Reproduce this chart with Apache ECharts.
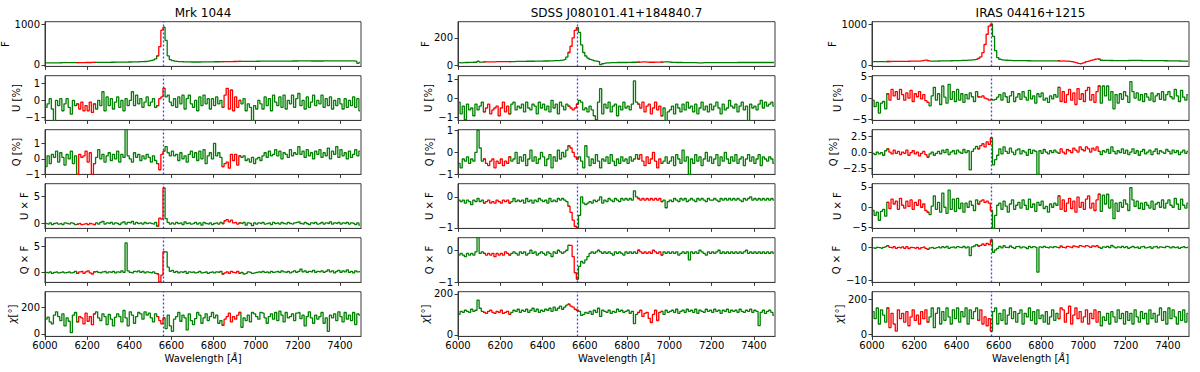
<!DOCTYPE html>
<html>
<head>
<meta charset="utf-8">
<script src="https://cdn.jsdelivr.net/npm/echarts@6/dist/echarts.min.js"></script>
<style>
  html, body { margin: 0; padding: 0; background: #fff; }
  #chart { width: 1200px; height: 372px; }
</style>
</head>
<body>
<div id="chart"></div>
<script>
// wavelength bin centres, 10 A bins from 6000 to 7500
const waveStart = 6005;
const waveStep = 10;
const waveCount = 150;
const wavelengths = [];
for (let i = 0; i < waveCount; i++) wavelengths.push(waveStart + i * waveStep);
const xTicks = [6000, 6200, 6400, 6600, 6800, 7000, 7200, 7400];
const halpha = 6563;

// ---- Mrk 1044 ----
const mrkRed = [[6150, 6240], [6530, 6570], [6840, 6930]];
const mrkF = [
  50,50,51,52,52,53,53,54,55,55, 56,56,57,57,58,58,58,59,59,60,
  60,60,61,61,62,62,63,63,64,64, 65,66,66,67,68,69,70,70,71,72,
  73,74,75,76,78,80,82,85,90,100, 110,125,150,220,450,850,920,600,220,130,
  105,95,88,84,80,78,76,75,74,73, 73,72,72,73,74,75,75,76,76,77,
  78,78,79,80,81,82,82,83,84,85, 85,86,86,87,88,88,89,89,90,90,
  91,91,92,92,92,93,93,93,94,94, 94,95,95,95,96,96,96,97,97,97,
  98,99,100,99,98,98,97,97,97,97, 97,97,98,98,98,98,98,99,99,99,
  99,99,100,100,100,100,98,95,40,60
];
const mrkU = [
  -0.4,-0.2,0.1,-0.5,-1.2,0.0,-0.3,0.1,-0.6,-0.2, 0.1,-0.4,-0.8,0.0,-0.3,-0.2,-0.5,-0.1,-0.6,-0.3,
  -0.6,-0.1,-0.7,-0.2,-0.5,0.0,-0.3,0.5,-0.6,0.2, -0.3,0.1,-0.5,-0.1,0.2,-0.4,0.0,-0.6,0.1,-0.3,
  0.0,0.5,-0.3,0.3,-0.2,0.1,-0.4,-0.1,0.2,-0.3, -0.1,0.1,-0.4,-0.3,0.1,0.2,0.7,0.2,0.3,-0.1,
  -0.3,0.1,-0.4,0.2,-0.2,0.3,-0.5,0.1,0.3,-0.2, -0.4,0.0,-0.6,0.2,-0.3,0.3,-0.2,0.1,-0.5,0.1,
  -0.3,0.2,-0.2,0.0,-0.4,0.3,0.7,-0.5,0.6,-0.6, 0.2,-0.4,0.0,-0.2,0.1,-0.6,-0.2,-0.4,-1.2,-0.3,
  -0.5,0.0,-0.2,-0.5,0.2,-0.3,0.1,-0.6,0.3,-0.1, -0.3,0.2,-0.4,0.3,-0.5,0.0,-0.2,0.3,-0.4,0.1,
  0.4,-0.3,0.0,-0.5,0.2,-0.4,-0.1,0.3,-0.3,0.0, -0.2,0.3,-0.4,0.1,-0.3,0.2,-0.5,0.0,-0.3,0.1,
  -0.2,-0.5,0.1,-0.4,0.0,-0.3,0.2,-0.4,0.1,-0.6
];
const mrkQ = [
  -0.5,0.2,-0.3,0.3,0.1,0.5,-0.2,0.4,0.1,-0.4, 0.3,0.0,0.5,-0.3,0.2,-1.0,0.3,0.1,0.2,0.5,
  -0.2,0.4,-1.0,-0.3,0.1,0.6,0.0,0.3,-0.2,0.2, 0.4,-0.1,0.3,0.0,0.5,-0.2,0.3,0.1,2.5,0.2,
  0.0,-0.2,0.4,0.1,0.3,-0.1,0.2,0.0,0.3,0.1, -0.2,0.2,-0.1,-0.3,-0.7,0.3,0.5,0.8,0.4,0.2,
  0.5,0.2,0.3,-0.1,0.4,0.0,0.2,-0.2,0.3,0.5, 0.1,0.4,-0.1,0.5,0.0,0.6,-0.3,0.2,0.4,0.0,
  1.0,0.2,0.4,0.1,-0.5,-0.3,-0.2,-0.6,0.3,-0.1, 0.3,-0.4,0.2,0.1,0.2,-0.1,0.0,-0.2,0.1,-0.3,
  0.0,0.1,-0.1,0.2,0.4,0.1,0.5,0.2,0.3,0.6, 0.2,0.5,0.0,0.4,0.3,0.1,0.6,0.2,0.4,0.3,
  0.8,0.3,0.5,0.1,0.6,0.2,0.4,0.0,0.5,0.3, 0.6,0.1,0.4,0.2,0.7,0.0,0.5,0.3,0.8,0.1,
  0.6,0.2,0.4,0.0,0.5,0.1,0.3,0.6,0.2,0.5
];
const mrkUF = [
  0.0,-0.1,0.1,-0.2,0.0,0.1,-0.1,0.0,-0.2,0.1, 0.0,-0.1,0.1,0.0,-0.2,-0.1,0.0,-0.2,-0.1,0.0,
  -0.2,0.0,-0.1,-0.2,0.1,-0.1,0.2,0.4,-0.1,0.1, 0.0,0.2,-0.1,0.1,0.0,-0.2,0.1,0.3,-0.1,0.2,
  0.1,0.4,-0.1,0.2,0.0,0.1,-0.1,0.2,0.0,0.1, 0.0,-0.1,0.2,-0.5,1.0,0.8,6.5,0.9,0.2,-0.1,
  0.1,-0.1,0.2,0.0,0.1,-0.2,0.3,0.0,0.1,-0.1, 0.0,0.2,-0.1,0.1,-0.3,0.2,0.0,-0.1,0.1,-0.2,
  0.0,0.1,-0.1,0.2,0.0,0.5,0.7,0.3,0.6,0.1, 0.2,-0.1,0.1,0.0,0.2,-0.3,0.1,0.0,-0.4,0.1,
  -0.1,0.1,0.0,0.2,-0.1,0.0,0.1,-0.2,0.2,0.0, 0.1,-0.1,0.2,0.0,-0.1,0.2,0.0,-0.1,0.1,0.2,
  0.3,0.0,-0.1,0.2,0.0,-0.2,0.1,0.0,0.2,-0.1, 0.0,0.2,-0.1,0.1,0.0,0.3,-0.1,0.1,0.0,0.2,
  -0.1,0.1,0.0,0.2,-0.1,0.1,0.0,-0.2,0.1,-0.3
];
const mrkQF = [
  0.0,-0.1,0.1,-0.2,0.0,0.1,-0.1,0.0,0.1,-0.1, 0.0,0.1,-0.1,0.0,0.2,-0.2,0.1,0.2,-0.2,0.1,
  0.3,-0.1,-0.3,0.1,0.2,0.0,-0.1,0.1,0.2,-0.1, 0.1,0.0,0.2,-0.1,0.1,0.0,0.3,0.0,5.6,0.3,
  0.0,-0.1,0.2,0.1,0.3,0.0,0.2,-0.1,0.1,0.0, -0.1,0.1,-0.2,-0.3,-1.8,-0.5,3.9,3.9,1.0,0.2,
  0.4,0.0,0.2,-0.1,0.1,0.0,0.2,-0.2,0.1,0.0, 0.1,-0.1,0.0,0.2,-0.1,0.0,0.1,-0.2,0.0,0.1,
  -0.1,0.1,0.0,0.2,-0.3,-0.1,0.1,-0.2,0.2,0.0, -0.1,0.2,-0.2,0.0,-0.3,-0.2,0.1,0.0,-0.2,-0.1,
  0.0,0.1,0.0,0.2,0.0,0.1,-0.1,0.2,0.0,0.1, 0.2,0.0,0.3,0.1,0.0,0.2,-0.1,0.1,0.3,0.0,
  0.2,0.6,0.1,0.3,0.0,0.2,0.1,0.4,0.0,0.2, 0.1,0.3,0.0,0.2,0.5,0.1,0.3,-0.1,0.2,0.4,
  0.0,0.3,0.1,0.5,0.0,0.2,-0.1,0.3,0.1,0.2
];
const mrkChi = [
  110,125,90,75,140,165,130,100,150,60, 120,95,10,140,160,90,130,120,75,155,
  95,130,70,150,165,120,100,150,130,70, 145,110,60,125,150,130,90,175,120,60,
  165,140,80,130,160,150,110,165,140,155, 120,90,150,130,100,75,120,40,140,60,
  20,110,130,160,95,140,120,30,150,100, 70,115,160,140,80,120,150,100,130,160,
  120,140,80,100,65,110,130,155,90,130, 110,140,160,50,120,100,140,90,160,150,
  130,110,160,155,120,80,130,150,110,160, 100,170,140,90,160,120,130,150,100,155,
  160,115,140,60,130,165,120,80,140,110, 130,160,80,120,20,140,120,150,100,165,
  130,90,160,110,140,100,160,70,150,140
];

// ---- SDSS J080101.41+184840.7 ----
const sdssRed = [[6120, 6250], [6520, 6570], [6850, 6970]];
const sdssF = [
  22,21,22,23,23,24,24,25,25,32, 26,26,27,27,27,28,28,28,29,29,
  29,29,30,30,30,30,30,31,31,31, 31,31,32,32,32,32,33,33,33,33,
  34,34,34,35,35,36,36,37,38,40, 45,62,95,140,200,255,275,240,150,95,
  70,55,45,40,35,33,30,8,14,18, 20,21,22,22,22,23,23,23,23,23,
  24,24,25,25,25,26,26,27,27,26, 25,25,25,26,26,26,26,27,28,27,
  25,24,24,23,23,23,22,22,22,22, 22,22,22,21,21,21,22,22,22,22,
  22,22,22,22,22,22,22,22,22,22, 22,22,23,23,23,23,23,23,23,23,
  23,23,23,23,23,23,23,23,23,23
];
const sdssU = [
  -0.2,-0.8,-0.4,-1.1,-0.3,-0.6,-0.5,-0.9,-0.3,-0.6, -0.4,-0.2,-0.7,-0.5,-0.3,-0.8,-0.6,-0.5,-0.4,-0.9,
  -0.5,-0.2,-0.7,-0.4,-0.8,-0.3,-0.2,-0.6,-0.4,-0.5, -0.3,-0.7,-0.2,-0.5,-0.6,-0.3,-0.4,-0.8,-0.2,-0.5,
  -0.3,-0.6,-0.4,-0.7,-0.1,-0.5,-0.3,-0.8,-0.2,-0.4, -0.6,-0.3,-0.4,-0.5,-0.6,-0.5,-0.3,-0.1,-0.2,-0.6,
  -0.5,-0.7,-0.4,-0.6,-0.9,-1.1,-0.2,0.5,-0.8,-0.3, -0.5,-0.2,-0.7,-0.4,-0.3,-0.9,-0.4,-0.6,-0.2,-0.5,
  -0.4,-0.6,-0.3,0.9,-0.2,-0.3,-0.5,-0.2,-0.7,-0.4, -0.3,-0.8,-0.5,-0.2,-0.6,-0.4,-0.9,-0.5,-1.2,-0.7,
  -0.6,-0.4,-0.8,-0.3,-0.5,-0.7,-0.3,-0.6,-0.2,-0.5, -0.4,-0.7,-0.3,-0.8,-0.5,-0.2,-0.6,-0.4,-0.7,-0.3,
  -0.6,-0.4,-0.2,-0.5,-0.8,-0.3,-0.6,-0.5,-0.1,-0.4, -0.5,-0.3,-0.7,-0.4,-0.2,-0.6,-0.4,-1.2,-0.3,-0.5,
  -0.4,-0.6,-0.3,-0.1,-0.5,-0.2,-0.4,-0.3,-0.2,-0.4
];
const sdssQ = [
  -0.5,-0.7,-0.3,-0.4,-0.2,-0.5,-0.3,-0.4,0.0,1.0, 0.2,-0.4,-0.3,-0.5,-0.6,-0.4,-0.3,-0.7,-0.4,-0.5,
  -0.3,-0.6,-0.4,-0.5,-0.2,-0.4,-0.3,0.0,-0.5,-0.2, -0.4,-0.1,-0.6,-0.3,0.1,-0.4,-0.2,-0.5,-0.3,0.0,
  -0.2,-0.6,-0.3,-0.1,-0.7,-0.2,-0.4,0.1,-0.3,0.0, -0.2,0.1,0.3,0.2,0.0,-0.2,-0.3,-0.2,-0.4,-0.7,
  0.3,-0.2,-0.6,-0.3,-0.5,-0.1,-0.4,-0.7,-0.3,-0.4, -0.2,-0.5,-0.1,-0.4,-0.6,-0.3,-0.5,-0.2,-0.4,-0.3,
  -0.5,-0.2,-0.4,-0.3,-0.1,-0.3,-0.1,-0.4,-0.6,-0.2, -0.5,-0.3,0.0,-0.4,-0.7,-0.3,-0.5,-0.4,-0.2,-0.5,
  -0.4,-0.2,-0.6,-0.1,-0.3,-0.5,0.1,-0.4,-0.2,-1.0, -0.3,-0.5,-0.1,-0.4,-0.2,-0.6,-0.3,0.0,-0.4,-0.2,
  -0.5,-0.3,-0.1,-0.6,-0.2,-0.4,0.0,-0.3,-0.5,-0.2, -0.4,-0.1,-0.5,-0.3,-0.2,-0.6,-0.3,-0.1,-0.4,-0.2,
  -0.5,-0.3,-0.1,-0.6,-0.2,-0.3,-0.4,-0.2,-0.3,-0.5
];
const sdssUF = [
  -0.1,-0.15,-0.1,-0.2,-0.1,-0.15,-0.25,-0.1,-0.15,-0.05, -0.15,-0.1,-0.2,-0.15,-0.1,-0.2,-0.15,-0.2,-0.1,-0.15,
  -0.2,-0.1,-0.15,-0.1,-0.2,-0.15,-0.05,-0.15,-0.1,-0.15, -0.1,-0.2,-0.05,-0.15,-0.1,-0.2,-0.1,-0.15,-0.05,-0.1,
  -0.15,-0.1,-0.2,-0.05,-0.15,-0.1,-0.15,-0.05,-0.1,-0.05, -0.1,-0.15,-0.3,-0.5,-0.75,-0.95,-1.0,-0.6,0.0,-0.2,
  -0.25,-0.2,-0.15,-0.2,-0.1,-0.15,-0.1,0.0,-0.2,-0.1, -0.15,-0.05,-0.1,-0.15,-0.05,-0.1,-0.15,-0.05,-0.1,-0.05,
  -0.1,-0.05,-0.1,0.2,0.0,-0.05,-0.1,-0.05,-0.1,-0.05, -0.1,-0.05,-0.1,-0.05,-0.1,-0.05,-0.15,-0.1,-0.35,-0.15,
  -0.1,-0.15,-0.05,-0.1,-0.15,-0.05,-0.1,-0.05,-0.15,-0.1, -0.05,-0.1,-0.15,-0.05,-0.1,-0.05,-0.1,-0.15,-0.05,-0.1,
  -0.1,-0.05,-0.1,-0.15,-0.05,-0.1,-0.05,-0.1,-0.05,-0.1, -0.05,-0.1,-0.05,-0.1,-0.15,-0.05,-0.1,-0.05,0.0,-0.1,
  -0.05,-0.1,-0.05,-0.1,-0.05,-0.1,-0.05,-0.1,-0.05,-0.1
];
const sdssQF = [
  -0.15,-0.1,-0.15,-0.2,-0.1,-0.15,-0.1,-0.15,-0.05,0.4, -0.1,-0.05,-0.1,-0.15,-0.1,-0.15,-0.1,-0.2,-0.1,-0.15,
  -0.1,-0.15,-0.05,-0.1,-0.15,-0.1,-0.05,-0.1,-0.15,-0.05, -0.1,-0.05,-0.15,-0.1,0.0,-0.1,-0.05,-0.15,-0.1,-0.05,
  -0.1,-0.15,-0.05,-0.1,-0.2,-0.05,-0.1,0.0,-0.05,-0.1, -0.05,0.0,0.15,0.15,-0.2,-0.7,-0.9,-0.5,-0.35,-0.4,
  -0.3,-0.2,-0.1,-0.05,-0.1,-0.05,0.0,-0.05,-0.1,-0.05, -0.1,-0.05,-0.1,-0.15,-0.05,-0.1,-0.05,-0.1,-0.15,-0.05,
  -0.1,-0.05,-0.1,-0.05,-0.1,0.0,-0.05,-0.1,-0.05,-0.1, -0.05,-0.1,0.0,-0.05,-0.1,-0.05,-0.15,-0.05,-0.1,-0.05,
  -0.1,-0.05,-0.1,-0.05,-0.15,-0.1,-0.05,-0.1,-0.05,-0.3, -0.05,-0.1,-0.05,-0.1,0.0,-0.05,-0.1,-0.15,-0.05,-0.1,
  -0.05,-0.1,-0.05,0.0,-0.1,-0.05,-0.1,-0.05,-0.1,-0.05, -0.1,-0.05,-0.1,-0.05,-0.1,-0.05,0.0,-0.1,-0.05,-0.1,
  -0.05,-0.1,-0.05,-0.1,-0.05,-0.1,-0.05,-0.1,-0.05,-0.1
];
const sdssChi = [
  100,115,110,120,115,110,125,115,120,170, 130,115,110,105,115,120,110,105,115,110,
  120,105,110,115,100,110,120,115,125,110, 120,115,125,110,120,130,115,125,110,120,
  115,125,120,130,115,135,120,130,140,125, 135,145,150,140,135,125,120,115,95,100,
  110,105,115,100,120,110,130,90,120,115, 110,120,105,115,110,125,115,120,110,115,
  120,105,115,55,100,110,120,90,105,110, 80,60,100,120,70,110,115,100,120,110,
  115,120,110,125,105,115,120,110,125,115, 120,110,125,105,120,115,110,125,115,120,
  110,125,115,120,105,120,115,125,110,120, 115,120,110,125,115,110,120,115,125,110,
  120,115,45,110,120,105,115,120,110,95
];

// ---- IRAS 04416+1215 ----
const irasRed = [[6070, 6270], [6500, 6570], [6880, 7080]];
const irasF = [
  80,80,81,82,82,83,84,85,85,86, 86,87,88,88,89,90,90,91,92,93,
  93,94,95,100,110,118,105,95,94,95, 96,97,98,99,100,101,102,103,104,105,
  106,108,110,112,114,117,120,125,130,140, 160,200,300,500,750,950,1000,700,350,180,
  140,125,118,115,112,110,108,107,106,105, 105,104,104,103,103,102,102,102,101,101,
  100,100,100,100,100,100,100,100,98,95, 98,96,92,88,82,70,55,40,30,45,
  60,80,95,110,125,140,150,145,115,112, 110,110,109,109,108,108,108,107,107,107,
  108,109,110,111,111,110,110,109,108,108, 107,107,106,106,105,105,104,104,103,103,
  102,101,100,99,98,97,96,95,93,90
];
const irasU = [
  -0.5,-2.0,-1.0,-3.5,-1.2,-0.8,-2.5,1.0,-0.5,2.0, 0.5,1.5,-0.3,2.0,0.8,-0.5,1.2,0.0,1.8,-0.8,
  1.0,0.3,1.5,-0.2,0.8,-0.6,-1.0,-1.8,0.5,2.5, -0.5,1.0,-1.5,2.8,0.2,-1.2,3.2,-0.3,1.5,-0.8,
  2.0,-0.5,1.0,-1.0,0.8,-0.2,1.2,0.3,-0.8,1.5, 0.3,0.2,0.5,0.0,-0.2,-0.5,-0.3,-0.5,-0.3,0.2,
  0.8,-0.5,1.2,0.3,-1.0,0.5,1.5,-0.8,0.2,1.0, -0.3,1.5,0.2,-0.5,1.8,-0.2,0.5,-1.2,1.0,0.3,
  1.2,-0.5,0.0,-1.0,0.5,-0.2,0.8,0.2,2.5,-0.8, 1.5,-1.0,0.8,2.0,-0.5,1.2,-1.5,2.2,-0.3,1.0,
  -0.8,1.8,2.5,-0.5,0.8,-1.0,1.5,2.8,-1.2,2.8, 0.5,2.8,-0.5,1.5,-2.5,0.8,-1.2,1.0,-0.3,1.5,
  0.5,-1.0,3.8,1.5,0.0,1.2,-0.5,0.8,-0.8,1.0, 0.2,-0.5,1.2,-0.8,0.5,1.0,-0.3,1.5,-0.5,0.8,
  1.5,0.3,-0.2,2.0,0.5,-0.8,1.8,0.2,-0.5,0.8
];
const irasQ = [
  -0.2,-0.4,0.0,-0.3,-0.1,-0.5,0.2,0.5,0.0,-0.3, 0.3,-0.2,0.1,-0.4,0.0,-0.2,0.3,-0.5,-0.1,0.2,
  -0.3,0.0,-0.6,-0.2,0.1,-0.4,-0.8,-0.3,0.0,-0.5, -0.2,0.1,-0.3,0.3,-0.1,0.4,-0.4,0.0,0.2,-0.3,
  0.3,0.0,-0.2,0.4,-0.1,0.2,-2.8,0.1,0.5,0.9, 0.5,1.0,1.3,0.8,1.6,1.2,2.2,-2.0,-1.2,-0.5,
  0.5,-0.3,0.8,0.1,-0.2,0.6,0.0,-0.4,0.3,0.5, -0.3,0.2,0.0,-0.5,0.4,-0.2,0.3,0.1,-3.5,0.2,
  -0.2,0.4,0.0,-0.3,0.2,-0.1,0.3,0.0,-0.2,0.5, 0.0,-0.3,0.4,0.2,-0.1,0.6,0.3,0.0,0.8,0.4,
  0.2,0.8,0.5,0.0,0.6,0.3,0.8,0.1,-0.4,0.2, 0.0,0.4,-0.2,0.8,0.1,-0.3,0.2,-0.1,0.5,-0.2,
  0.3,-0.4,0.0,0.5,-0.2,0.2,-0.5,0.1,0.4,-0.3, 0.0,0.3,-0.4,0.1,0.5,-0.3,0.2,0.0,-0.2,0.4,
  0.1,-0.3,0.3,-0.1,0.2,-0.4,0.0,0.3,-0.2,0.1
];
const irasUF = [
  -0.8,-2.0,-1.2,-3.2,-1.0,-0.5,-2.2,1.2,-0.3,2.0, 0.8,1.5,-0.5,2.2,0.5,-0.2,1.5,0.2,1.8,-0.5,
  1.2,0.5,1.8,0.0,0.8,-0.8,-1.2,-1.8,0.3,2.8, -0.5,1.2,-1.2,3.5,0.0,-1.5,4.2,-0.5,2.0,-1.0,
  2.2,-0.3,1.0,-1.2,1.0,0.0,1.5,0.5,-0.8,1.8, 0.8,1.5,1.8,1.2,1.5,1.0,-0.8,-5.2,-2.0,0.5,
  1.0,-0.5,1.5,0.3,-1.2,0.8,1.8,-0.5,0.5,1.2, -0.2,1.8,0.5,-0.5,2.0,0.0,0.8,-1.0,1.2,0.5,
  1.5,-0.3,0.2,-1.2,0.8,0.0,1.0,0.5,2.8,-0.5, 1.8,-1.0,1.0,2.2,-0.3,1.5,-1.2,2.5,0.0,1.2,
  -0.5,2.0,2.8,-0.2,1.0,-0.8,1.8,3.2,-1.0,3.0, 0.8,3.2,-0.2,1.8,-2.8,1.0,-1.0,1.2,0.0,1.8,
  0.8,-0.8,4.8,1.8,0.2,1.5,-0.3,1.0,-0.5,1.2, 0.5,-0.2,1.5,-0.5,0.8,1.2,0.0,1.8,-0.2,1.0,
  1.8,0.5,0.0,2.2,0.8,-0.5,2.0,0.5,-0.2,1.0
];
const irasQF = [
  -0.2,-0.3,0.0,-0.1,-0.3,0.0,0.2,0.5,0.0,-0.2, 0.2,-0.3,0.0,-0.2,0.1,-0.3,0.2,-0.4,0.0,-0.1,
  -0.3,0.0,-0.5,-0.1,0.1,-0.3,-0.6,-0.2,0.0,-0.3, -0.1,0.1,-0.2,0.2,-0.1,0.3,-0.3,0.0,0.1,-0.2,
  0.2,0.0,-0.1,0.3,-0.2,0.1,-2.5,0.1,0.4,0.8, 0.4,0.6,1.0,0.6,1.2,0.8,2.2,-1.5,-0.8,-0.3,
  0.3,-0.2,0.5,0.0,-0.1,0.4,0.0,-0.3,0.2,0.3, -0.2,0.1,0.0,-0.4,0.3,-0.1,0.2,0.0,-7.5,0.1,
  -0.1,0.3,0.0,-0.2,0.1,-0.1,0.2,0.0,-0.1,0.4, 0.0,-0.2,0.3,0.1,-0.1,0.4,0.2,0.0,0.5,0.3,
  0.1,0.5,0.3,0.0,0.4,0.2,0.5,0.0,-0.3,0.1, 0.0,0.3,-0.1,0.6,0.1,-0.2,0.1,-0.1,0.3,-0.1,
  0.2,-0.3,0.0,0.3,-0.1,0.1,-0.3,0.1,0.3,-0.2, 0.0,0.2,-0.3,0.1,0.3,-0.2,0.1,0.0,-0.1,0.3,
  0.1,-0.2,0.2,-0.1,0.1,-0.3,0.0,0.2,-0.1,0.1
];
const irasChi = [
  130,90,150,60,140,110,70,150,40,120, 60,20,140,90,120,70,130,50,100,140,
  80,110,60,130,90,140,70,100,150,40, 120,150,60,130,80,150,100,60,140,90,
  150,70,130,100,150,60,140,90,130,150, 80,140,60,100,50,90,20,130,150,60,
  120,80,140,60,110,150,90,130,70,120, 140,60,120,100,150,80,130,60,140,90,
  110,70,130,60,100,140,80,120,90,150, 140,70,120,160,60,110,150,90,130,70,
  100,140,60,120,90,140,70,130,50,100, 80,120,60,130,100,70,140,90,120,60,
  130,80,120,60,140,100,70,130,90,120, 60,140,90,120,70,110,150,80,130,60,
  150,90,140,100,60,130,80,140,70,120
];

// ---- layout ----
const FONT = 'DejaVu Sans';
const AXIS = '#3a3a3a';
const GREEN = '#008000';
const RED = '#ff0000';
const BLUE = '#1f1fff';
const rowTop = [21.7, 75.7, 129.7, 183.7, 237.7, 291.7];
const rowHeight = 44.7;

const columns = [
  {
    title: 'Mrk 1044', left: 45, width: 316, red: mrkRed,
    panels: [
      { name: 'F', data: mrkF, min: -35, max: 1057, ticks: [0, 1000], gap: 31 },
      { name: 'U [%]', data: mrkU, min: -1.16, max: 1.43, ticks: [-1, 0, 1], gap: 21 },
      { name: 'Q [%]', data: mrkQ, min: -1.0, max: 1.89, ticks: [-1, 0, 1], gap: 22 },
      { name: 'U × F', data: mrkUF, min: -0.9, max: 7.3, ticks: [0, 5], gap: 16 },
      { name: 'Q × F', data: mrkQF, min: -1.9, max: 6.6, ticks: [0, 5], gap: 16 },
      { name: '{i|χ}[°]', data: mrkChi, min: -18, max: 315, ticks: [0, 200], gap: 16 }
    ]
  },
  {
    title: 'SDSS J080101.41+184840.7', left: 458, width: 317, red: sdssRed,
    panels: [
      { name: 'F', data: sdssF, min: -5, max: 317, ticks: [0, 200], gap: 25 },
      { name: 'U [%]', data: sdssU, min: -1.14, max: 1.17, ticks: [-1, 0, 1], gap: 25 },
      { name: 'Q [%]', data: sdssQ, min: -1.0, max: 1.03, ticks: [-1, 0, 1], gap: 20 },
      { name: 'U × F', data: sdssUF, min: -1.02, max: 0.43, ticks: [-1, 0], gap: 20 },
      { name: 'Q × F', data: sdssQF, min: -1.0, max: 0.39, ticks: [-1, 0], gap: 20 },
      { name: '{i|χ}[°]', data: sdssChi, min: -8, max: 211, ticks: [0, 200], gap: 23 }
    ]
  },
  {
    title: 'IRAS 04416+1215', left: 872, width: 317, red: irasRed,
    panels: [
      { name: 'F', data: irasF, min: -35, max: 1057, ticks: [0, 1000], gap: 33 },
      { name: 'U [%]', data: irasU, min: -5.2, max: 5.2, ticks: [-5, 0, 5], gap: 30 },
      { name: 'Q [%]', data: irasQ, min: -3.5, max: 3.5, ticks: [-2.5, 0, 2.5], gap: 30, dec: 1 },
      { name: 'U × F', data: irasUF, min: -5.2, max: 5.8, ticks: [-5, 0, 5], gap: 30 },
      { name: 'Q × F', data: irasQF, min: -10.6, max: 2.9, ticks: [-10, 0], gap: 29 },
      { name: '{i|χ}[°]', data: irasChi, min: -10, max: 242, ticks: [0, 200], gap: 24 }
    ]
  }
];

const minus = (s) => String(s).replace('-', '\u2212');
const inRed = (ranges, w) => ranges.some(([a, b]) => w >= a && w <= b);

const grid = [], xAxis = [], yAxis = [], series = [], graphic = [];

columns.forEach((col) => {
  graphic.push({
    type: 'text', x: col.left + col.width / 2, y: 13,
    style: { text: col.title, font: '12px "' + FONT + '"', fill: '#000', textAlign: 'center', textVerticalAlign: 'middle' }
  });
  const redMask = wavelengths.map((w) => inRed(col.red, w));
  col.panels.forEach((p, r) => {
    const k = grid.length;
    const bottom = r === col.panels.length - 1;
    grid.push({
      left: col.left, width: col.width, top: rowTop[r], height: rowHeight,
      show: true, borderColor: AXIS, borderWidth: 1, backgroundColor: 'transparent',
      containLabel: false, outerBoundsMode: 'none'
    });
    xAxis.push({
      gridIndex: k, type: 'value', min: 6000, max: 7500,
      splitLine: { show: false },
      axisLine: { show: true, onZero: false, lineStyle: { color: AXIS, width: 1 } },
      axisTick: { show: true, inside: false, length: 3.5, lineStyle: { color: AXIS }, customValues: xTicks },
      axisLabel: {
        show: bottom, customValues: xTicks, margin: 4, color: '#000', fontFamily: FONT, fontSize: 10,
        formatter: (v) => String(v)
      },
      name: bottom ? 'Wavelength [{i|Å}]' : '',
      nameLocation: 'middle', nameGap: 17,
      nameTextStyle: { color: '#000', fontFamily: FONT, fontSize: 10, rich: { i: { fontStyle: 'italic', fontFamily: FONT, fontSize: 10 } } }
    });
    yAxis.push({
      gridIndex: k, type: 'value', min: p.min, max: p.max,
      splitLine: { show: false },
      axisLine: { show: true, onZero: false, lineStyle: { color: AXIS, width: 1 } },
      axisTick: { show: true, inside: false, length: 3.5, lineStyle: { color: AXIS }, customValues: p.ticks },
      axisLabel: {
        customValues: p.ticks, margin: 5, color: '#000', fontFamily: FONT, fontSize: 10,
        formatter: (v) => minus(p.dec ? Number(v).toFixed(p.dec) : v)
      },
      name: p.name, nameLocation: 'middle', nameRotate: 90, nameGap: p.gap,
      nameTextStyle: { color: '#000', fontFamily: FONT, fontSize: 10, rich: { i: { fontStyle: 'italic', fontFamily: FONT, fontSize: 10 } } }
    });
    // green everywhere outside the red windows, keeping the boundary points so the two join
    series.push({
      type: 'line', xAxisIndex: k, yAxisIndex: k, step: 'middle',
      data: wavelengths.map((w, i) => {
        const hidden = redMask[i] && redMask[i - 1] && redMask[i + 1];
        return [w, hidden ? '-' : p.data[i]];
      }),
      showSymbol: false, symbol: 'none', clip: true, connectNulls: false,
      lineStyle: { color: GREEN, width: 1.3 }, silent: true
    });
    series.push({
      type: 'line', xAxisIndex: k, yAxisIndex: k, step: 'middle',
      data: wavelengths.map((w, i) => [w, redMask[i] ? p.data[i] : '-']),
      showSymbol: false, symbol: 'none', clip: true, connectNulls: false,
      lineStyle: { color: RED, width: 1.3 }, silent: true,
      markLine: {
        silent: true, symbol: ['none', 'none'], label: { show: false },
        emphasis: { disabled: true },
        itemStyle: { color: BLUE },
        lineStyle: { color: BLUE, type: [2, 2], width: 1.3, opacity: 0.85 },
        data: [{ xAxis: halpha, lineStyle: { color: BLUE } }]
      }
    });
  });
});

const chart = echarts.init(document.getElementById('chart'), null, { renderer: 'svg' });
chart.setOption({
  animation: false,
  backgroundColor: '#fff',
  textStyle: { fontFamily: FONT },
  grid, xAxis, yAxis, series, graphic
});
</script>
</body>
</html>
